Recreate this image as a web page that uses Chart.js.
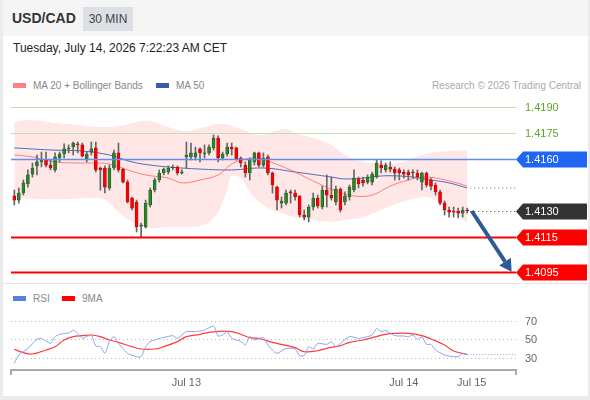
<!DOCTYPE html>
<html>
<head>
<meta charset="utf-8">
<script src="https://cdn.jsdelivr.net/npm/chart.js@4.4.1/dist/chart.umd.min.js"></script>
<style>
  html, body { margin: 0; padding: 0; }
  body { width: 590px; height: 400px; background: #ebebeb; position: relative; overflow: hidden;
         font-family: "Liberation Sans", Arial, sans-serif; }
  .abs { position: absolute; white-space: nowrap; }
  #panel { left: 3px; top: 0; width: 585px; height: 396px; background: #fff; }
  #head { left: 3px; top: 0; width: 585px; height: 36px; background: #f5f5f5; }
  #pair { left: 12px; top: 10px; font-size: 14px; font-weight: bold; color: #333; }
  #tf { left: 83px; top: 7px; width: 50px; height: 24px; line-height: 24px; text-align: center;
        background: #dcdfe4; font-size: 12px; color: #444; }
  #date { left: 13px; top: 41px; font-size: 12px; color: #222; }
  .leg { font-size: 10px; color: #888; line-height: 12px; }
  .sw { display: inline-block; width: 13px; height: 5px; vertical-align: middle; margin-right: 7px; position: relative; top: -1px; }
  #sep { left: 3px; top: 283px; width: 585px; height: 1px; background: #e6e6e6; }
  canvas { position: absolute; left: 0; }
</style>
</head>
<body>
<div id="panel" class="abs"></div>
<div id="head" class="abs"></div>
<div id="pair" class="abs">USD/CAD</div>
<div id="tf" class="abs">30 MIN</div>
<div id="date" class="abs">Tuesday, July 14, 2026 7:22:23 AM CET</div>
<div class="abs leg" style="left:13px;top:80px"><span class="sw" style="background:#ff8080"></span>MA 20 + Bollinger Bands</div>
<div class="abs leg" style="left:156px;top:80px"><span class="sw" style="background:#3a5fa0"></span>MA 50</div>
<div class="abs leg" style="right:9px;top:80px;color:#aaa">Research © 2026 Trading Central</div>
<div id="sep" class="abs"></div>
<div class="abs leg" style="left:13px;top:293px"><span class="sw" style="background:#5b7fdc"></span>RSI</div>
<div class="abs leg" style="left:62px;top:293px"><span class="sw" style="background:#ff0000"></span>9MA</div>
<canvas id="price" width="590" height="188" style="top:95px"></canvas>
<canvas id="rsi" width="590" height="87" style="top:305px"></canvas>
<script>
// candles, 30 min, index 0..100
const candleOpen = [1.41387,1.41363,1.41404,1.41456,1.41513,1.41560,1.41583,1.41594,1.41565,1.41537,
  1.41606,1.41629,1.41658,1.41669,1.41687,1.41681,1.41600,1.41640,1.41664,1.41548,
  1.41548,1.41433,1.41548,1.41635,1.41542,1.41467,1.41375,1.41352,1.41213,1.41208,
  1.41335,1.41421,1.41479,1.41519,1.41525,1.41548,1.41554,1.41519,1.41612,1.41612,
  1.41612,1.41658,1.41629,1.41635,1.41664,1.41721,1.41606,1.41629,1.41669,1.41664,
  1.41606,1.41565,1.41519,1.41583,1.41635,1.41565,1.41612,1.41519,1.41438,1.41346,
  1.41346,1.41410,1.41404,1.41387,1.41277,1.41265,1.41323,1.41375,1.41323,1.41421,
  1.41392,1.41352,1.41427,1.41352,1.41381,1.41421,1.41485,1.41479,1.41467,1.41467,
  1.41496,1.41565,1.41537,1.41554,1.41542,1.41537,1.41525,1.41525,1.41519,1.41519,
  1.41467,1.41519,1.41479,1.41450,1.41410,1.41346,1.41306,1.41300,1.41300,1.41288,1.41306];
const candleHigh = [1.41421,1.41433,1.41479,1.41537,1.41577,1.41623,1.41640,1.41640,1.41594,1.41635,
  1.41640,1.41687,1.41681,1.41698,1.41698,1.41692,1.41640,1.41698,1.41698,1.41554,
  1.41560,1.41565,1.41652,1.41692,1.41548,1.41479,1.41381,1.41363,1.41231,1.41363,
  1.41433,1.41490,1.41537,1.41548,1.41560,1.41565,1.41560,1.41537,1.41698,1.41692,
  1.41669,1.41664,1.41681,1.41681,1.41739,1.41733,1.41640,1.41692,1.41692,1.41669,
  1.41612,1.41583,1.41606,1.41640,1.41640,1.41635,1.41623,1.41525,1.41444,1.41381,
  1.41421,1.41421,1.41421,1.41387,1.41306,1.41335,1.41404,1.41392,1.41444,1.41508,
  1.41496,1.41444,1.41433,1.41410,1.41450,1.41537,1.41496,1.41496,1.41508,1.41525,
  1.41594,1.41589,1.41577,1.41583,1.41554,1.41548,1.41537,1.41537,1.41537,1.41537,
  1.41525,1.41525,1.41490,1.41462,1.41421,1.41358,1.41323,1.41323,1.41317,1.41323,1.41317];
const candleLow = [1.41335,1.41346,1.41392,1.41438,1.41496,1.41508,1.41554,1.41554,1.41537,1.41525,
  1.41583,1.41606,1.41635,1.41623,1.41635,1.41612,1.41583,1.41623,1.41525,1.41421,
  1.41404,1.41421,1.41537,1.41525,1.41462,1.41346,1.41306,1.41179,1.41150,1.41202,
  1.41323,1.41410,1.41467,1.41508,1.41513,1.41537,1.41508,1.41513,1.41548,1.41594,
  1.41594,1.41583,1.41606,1.41623,1.41652,1.41583,1.41594,1.41617,1.41623,1.41594,
  1.41554,1.41496,1.41479,1.41565,1.41554,1.41554,1.41508,1.41404,1.41306,1.41317,
  1.41335,1.41346,1.41363,1.41265,1.41248,1.41237,1.41306,1.41317,1.41312,1.41323,
  1.41363,1.41335,1.41294,1.41335,1.41363,1.41410,1.41433,1.41444,1.41456,1.41450,
  1.41490,1.41519,1.41525,1.41525,1.41479,1.41479,1.41490,1.41479,1.41490,1.41479,
  1.41421,1.41438,1.41421,1.41392,1.41335,1.41277,1.41265,1.41265,1.41260,1.41265,1.41288];
const candleClose = [1.41363,1.41404,1.41462,1.41508,1.41548,1.41583,1.41594,1.41565,1.41548,1.41612,
  1.41629,1.41658,1.41664,1.41692,1.41681,1.41617,1.41629,1.41658,1.41537,1.41537,
  1.41438,1.41548,1.41635,1.41537,1.41467,1.41352,1.41317,1.41208,1.41219,1.41346,
  1.41421,1.41479,1.41519,1.41542,1.41548,1.41554,1.41519,1.41525,1.41623,1.41635,
  1.41635,1.41635,1.41635,1.41669,1.41721,1.41606,1.41629,1.41669,1.41658,1.41600,
  1.41577,1.41519,1.41594,1.41635,1.41565,1.41606,1.41519,1.41450,1.41363,1.41358,
  1.41404,1.41404,1.41381,1.41277,1.41265,1.41323,1.41375,1.41329,1.41421,1.41392,
  1.41375,1.41427,1.41306,1.41387,1.41438,1.41490,1.41456,1.41462,1.41496,1.41513,
  1.41577,1.41548,1.41565,1.41542,1.41519,1.41519,1.41513,1.41508,1.41525,1.41496,
  1.41519,1.41450,1.41444,1.41410,1.41346,1.41306,1.41294,1.41294,1.41288,1.41306,1.41300];

// moving averages and bands, read at sample candles
const ma20Idx = [0,4,9,14,17,21,25,29,34,37,41,45,48,51,54,56,61,66,71,75,79,83,87,90,93,97,100];
const ma20Val = [1.41623,1.41612,1.41583,1.41577,1.41577,1.41571,1.41537,1.41508,1.41490,1.41462,1.41479,1.41508,1.41571,
  1.41600,1.41606,1.41589,1.41537,1.41473,1.41415,1.41387,1.41392,1.41444,1.41479,1.41496,1.41490,1.41467,1.41444];
const ma50Idx = [0,8,15,21,26,30,34,41,48,55,62,70,73,77,81,85,88,92,96,100];
const ma50Val = [1.41664,1.41652,1.41646,1.41623,1.41583,1.41565,1.41554,1.41542,1.41537,1.41548,1.41525,1.41496,
  1.41485,1.41490,1.41502,1.41502,1.41496,1.41479,1.41462,1.41433];
const upperIdx = [0,4,9,14,19,23,28,30,34,38,42,46,50,54,57,60,62,66,70,73,77,81,85,88,92,96,100];
const upperVal = [1.41814,1.41825,1.41808,1.41796,1.41785,1.41790,1.41819,1.41819,1.41785,1.41762,1.41785,1.41802,1.41773,
  1.41739,1.41756,1.41773,1.41750,1.41721,1.41681,1.41623,1.41583,1.41577,1.41577,1.41606,1.41635,1.41646,1.41652];
const lowerIdx = [0,6,12,17,20,23,26,30,34,37,41,43,45,47,48,50,52,55,59,62,66,70,73,77,81,85,88,91,93,97,100];
const lowerVal = [1.41375,1.41369,1.41369,1.41375,1.41363,1.41294,1.41237,1.41202,1.41208,1.41208,1.41213,1.41237,1.41294,
  1.41421,1.41502,1.41490,1.41410,1.41335,1.41288,1.41265,1.41248,1.41237,1.41248,1.41265,1.41306,1.41346,1.41369,
  1.41381,1.41363,1.41294,1.41231];

// key levels on the right
const levelValues = [1.4190, 1.4175, 1.4160, 1.4130, 1.4115, 1.4095];
const levelKinds = ['res', 'res', 'pivot', 'last', 'sup', 'sup'];
const arrowFrom = [101, 1.4130];
const arrowTo = [109.8, 1.4095];

// RSI pane
const rsiIdx = [0,1,3,5,6,8,9,10,12,13,14,15,16,17,18,19,20,21,22,23,24,25,27,28,29,30,32,33,35,36,38,40,41,42,44,45,46,47,48,
  50,51,52,53,55,56,57,58,60,62,63,64,65,66,67,69,70,71,72,74,76,77,79,80,81,82,84,86,87,88,89,90,91,92,93,95,96,98,99,100];
const rsiVal = [23.8,32.9,40,50,51,45.6,53,55.5,57,60,56.5,51,53,54.7,42.7,42,34.7,47.5,53,45.6,40,34.7,31,31,42,47.5,51,52,54,51,
  58.4,58.4,59,60,64.5,53.6,54.7,58.4,51,48,43.8,53,49.3,51.8,43.8,38.4,34.7,40,39.5,32.2,32.2,42,39.5,45.6,44.5,47.5,42,45.6,
  53,51,51.8,54.7,62,58.4,59.5,54,53.6,52.9,54.7,50,52.9,44.5,44.5,38.4,32.9,31.8,31,34.7,33.5];
const ma9Idx = [0,2,4,7,9,11,13,15,17,19,21,23,26,28,31,33,36,38,41,43,46,48,50,52,54,57,59,62,64,67,69,72,74,77,79,82,84,87,90,92,95,97,100];
const ma9Val = [39.1,35.5,34,38.4,42,49.3,52.9,54,54.7,52.9,49.3,46.7,42,39.5,39.5,42,47.5,52.9,55.5,57.6,59,58.4,55.5,51.8,51,
  46.7,44.5,40.9,36.5,37.6,40.2,43.1,46.7,49.3,51.8,55.5,56.5,56.5,54,50.4,43.8,37.3,33.5];
const rsiLevels = [70, 50, 30];
const tickPos = [38, 86, 101];
const tickLabels = ['Jul 13', 'Jul 14', 'Jul 15'];

const X_MIN = -0.73, X_MAX = 110.77;
const UP = '#2b862b', DOWN = '#ff0000';
const FONT = '"Liberation Sans", Arial, sans-serif';

const pts = (xs, ys) => xs.map((x, i) => ({ x: x, y: ys[i] }));
const lastIdx = candleClose.length - 1;

function tag(ctx, x, y, color, text) {
  ctx.fillStyle = color;
  ctx.beginPath();
  ctx.moveTo(x, y);
  ctx.lineTo(x + 7, y - 8);
  ctx.lineTo(x + 71, y - 8);
  ctx.lineTo(x + 71, y + 8);
  ctx.lineTo(x + 7, y + 8);
  ctx.closePath();
  ctx.fill();
  ctx.fillStyle = '#fff';
  ctx.fillText(text, x + 9, y + 0.5);
}

const levelsPlugin = {
  id: 'levels',
  afterDatasetsDraw(chart) {
    const { ctx, chartArea: a, scales: { x, y } } = chart;
    ctx.save();
    ctx.font = '11px ' + FONT;
    ctx.textBaseline = 'middle';
    // MA 50 dotted extension
    const mEnd = ma50Val[ma50Val.length - 1];
    ctx.strokeStyle = '#666';
    ctx.lineWidth = 1;
    ctx.setLineDash([1, 3]);
    ctx.beginPath();
    ctx.moveTo(x.getPixelForValue(lastIdx) + 3, y.getPixelForValue(mEnd));
    ctx.lineTo(a.right, y.getPixelForValue(mEnd));
    ctx.stroke();
    ctx.setLineDash([]);
    levelValues.forEach((v, i) => {
      const py = Math.round(y.getPixelForValue(v)) + 0.5;
      const kind = levelKinds[i];
      const txt = v.toFixed(4);
      ctx.beginPath();
      if (kind === 'res') {
        ctx.strokeStyle = '#c2dfae'; ctx.lineWidth = 1;
        ctx.moveTo(a.left, py); ctx.lineTo(a.right, py); ctx.stroke();
        ctx.fillStyle = '#5ea52e';
        ctx.fillText(txt, a.right + 9, py);
      } else if (kind === 'pivot') {
        ctx.strokeStyle = '#5f8ff2'; ctx.lineWidth = 1.5;
        ctx.moveTo(a.left, py); ctx.lineTo(a.right, py); ctx.stroke();
        tag(ctx, a.right, py, '#1f66f2', txt);
      } else if (kind === 'last') {
        ctx.strokeStyle = '#444'; ctx.lineWidth = 1;
        ctx.setLineDash([1, 3]);
        ctx.moveTo(x.getPixelForValue(lastIdx) + 3, py); ctx.lineTo(a.right, py); ctx.stroke();
        ctx.setLineDash([]);
        tag(ctx, a.right, py, '#333333', txt);
      } else {
        ctx.strokeStyle = '#ff0000'; ctx.lineWidth = 2;
        ctx.moveTo(a.left, py); ctx.lineTo(a.right, py); ctx.stroke();
        tag(ctx, a.right, py, '#ff0000', txt);
      }
    });
    // projection arrow
    const x0 = x.getPixelForValue(arrowFrom[0]), y0 = y.getPixelForValue(arrowFrom[1]);
    const x1 = x.getPixelForValue(arrowTo[0]), y1 = y.getPixelForValue(arrowTo[1]);
    const ang = Math.atan2(y1 - y0, x1 - x0);
    const hx = x1 - 12 * Math.cos(ang), hy = y1 - 12 * Math.sin(ang);
    ctx.strokeStyle = '#2d5b9a';
    ctx.fillStyle = '#2d5b9a';
    ctx.lineWidth = 4;
    ctx.beginPath();
    ctx.moveTo(x0, y0); ctx.lineTo(hx, hy); ctx.stroke();
    ctx.beginPath();
    ctx.moveTo(x1, y1);
    ctx.lineTo(hx + 7 * Math.sin(ang), hy - 7 * Math.cos(ang));
    ctx.lineTo(hx - 7 * Math.sin(ang), hy + 7 * Math.cos(ang));
    ctx.closePath();
    ctx.fill();
    ctx.restore();
  }
};

new Chart(document.getElementById('price'), {
  type: 'bar',
  data: {
    datasets: [
      {
        type: 'bar',
        data: candleOpen.map((o, i) => ({ x: i, y: [o, candleClose[i]] })),
        backgroundColor: candleOpen.map((o, i) => candleClose[i] >= o ? UP : DOWN),
        borderColor: candleOpen.map((o, i) => candleClose[i] >= o ? '#1c4f1c' : '#b00000'),
        borderWidth: 0.6,
        borderSkipped: false,
        barThickness: 3,
        minBarLength: 1,
        grouped: false
      },
      {
        type: 'bar',
        data: candleHigh.map((h, i) => ({ x: i, y: [candleLow[i], h] })),
        backgroundColor: '#666',
        barThickness: 1,
        grouped: false
      },
      {
        type: 'line',
        data: pts(ma20Idx, ma20Val),
        borderColor: 'rgba(255,90,90,0.75)',
        borderWidth: 1,
        pointRadius: 0,
        tension: 0.4,
        fill: false
      },
      {
        type: 'line',
        data: pts(ma50Idx, ma50Val),
        borderColor: '#4a6fb0',
        borderWidth: 1,
        pointRadius: 0,
        tension: 0.4,
        fill: false
      },
      {
        type: 'line',
        data: pts(upperIdx, upperVal),
        borderWidth: 0,
        borderColor: 'rgba(0,0,0,0)',
        pointRadius: 0,
        tension: 0.4,
        backgroundColor: 'rgba(255,70,70,0.13)',
        fill: '+1'
      },
      {
        type: 'line',
        data: pts(lowerIdx, lowerVal),
        borderWidth: 0,
        borderColor: 'rgba(0,0,0,0)',
        pointRadius: 0,
        tension: 0.4,
        fill: false
      }
    ]
  },
  options: {
    responsive: false,
    animation: false,
    layout: { padding: { left: 11, right: 74, top: 0, bottom: 0 } },
    plugins: { legend: { display: false }, tooltip: { enabled: false } },
    scales: {
      x: { type: 'linear', min: X_MIN, max: X_MAX, offset: false, display: false },
      y: { type: 'linear', min: 1.40885, max: 1.41969, display: false }
    }
  },
  plugins: [levelsPlugin]
});

const rsiPlugin = {
  id: 'rsiGuides',
  beforeDatasetsDraw(chart) {
    const { ctx, chartArea: a, scales: { x, y } } = chart;
    ctx.save();
    ctx.font = '11px ' + FONT;
    ctx.textBaseline = 'middle';
    ctx.fillStyle = '#666';
    ctx.strokeStyle = '#bbb';
    ctx.lineWidth = 1;
    rsiLevels.forEach(v => {
      const py = Math.round(y.getPixelForValue(v)) + 0.5;
      ctx.setLineDash([1, 3]);
      ctx.beginPath(); ctx.moveTo(a.left, py); ctx.lineTo(a.right, py); ctx.stroke();
      ctx.setLineDash([]);
      ctx.fillText(String(v), a.right + 9, py);
    });
    // last RSI dotted extension
    const last = rsiVal[rsiVal.length - 1];
    ctx.strokeStyle = '#8aa2ee';
    ctx.setLineDash([1, 2]);
    ctx.beginPath();
    ctx.moveTo(x.getPixelForValue(rsiIdx[rsiIdx.length - 1]), y.getPixelForValue(last));
    ctx.lineTo(a.right, y.getPixelForValue(last));
    ctx.stroke();
    ctx.setLineDash([]);
    // end ticks of the time axis
    ctx.strokeStyle = '#aaa';
    ctx.lineWidth = 2;
    ctx.beginPath();
    ctx.moveTo(a.left, a.bottom); ctx.lineTo(a.left, a.bottom + 5);
    ctx.moveTo(a.right, a.bottom); ctx.lineTo(a.right, a.bottom + 5);
    ctx.stroke();
    ctx.restore();
  }
};

new Chart(document.getElementById('rsi'), {
  type: 'line',
  data: {
    datasets: [
      { data: pts(rsiIdx, rsiVal), borderColor: '#8aa2ee', borderWidth: 1, pointRadius: 0, tension: 0.2 },
      { data: pts(ma9Idx, ma9Val), borderColor: '#ff3b3b', borderWidth: 1.2, pointRadius: 0, tension: 0.4 }
    ]
  },
  options: {
    responsive: false,
    animation: false,
    layout: { padding: { left: 11, right: 74, top: 0, bottom: 0 } },
    plugins: { legend: { display: false }, tooltip: { enabled: false } },
    scales: {
      x: {
        type: 'linear', min: X_MIN, max: X_MAX,
        grid: { display: false, drawTicks: false },
        border: { display: true, color: '#aaa', width: 2 },
        afterBuildTicks: axis => { axis.ticks = tickPos.map(v => ({ value: v })); },
        afterFit: axis => { axis.height = 22; },
        ticks: {
          autoSkip: false, maxRotation: 0, padding: 6, color: '#666',
          font: { size: 11, family: FONT },
          callback: v => tickLabels[tickPos.indexOf(v)]
        }
      },
      y: { type: 'linear', min: 16.6, max: 87.4, display: false }
    }
  },
  plugins: [rsiPlugin]
});
</script>
</body>
</html>
